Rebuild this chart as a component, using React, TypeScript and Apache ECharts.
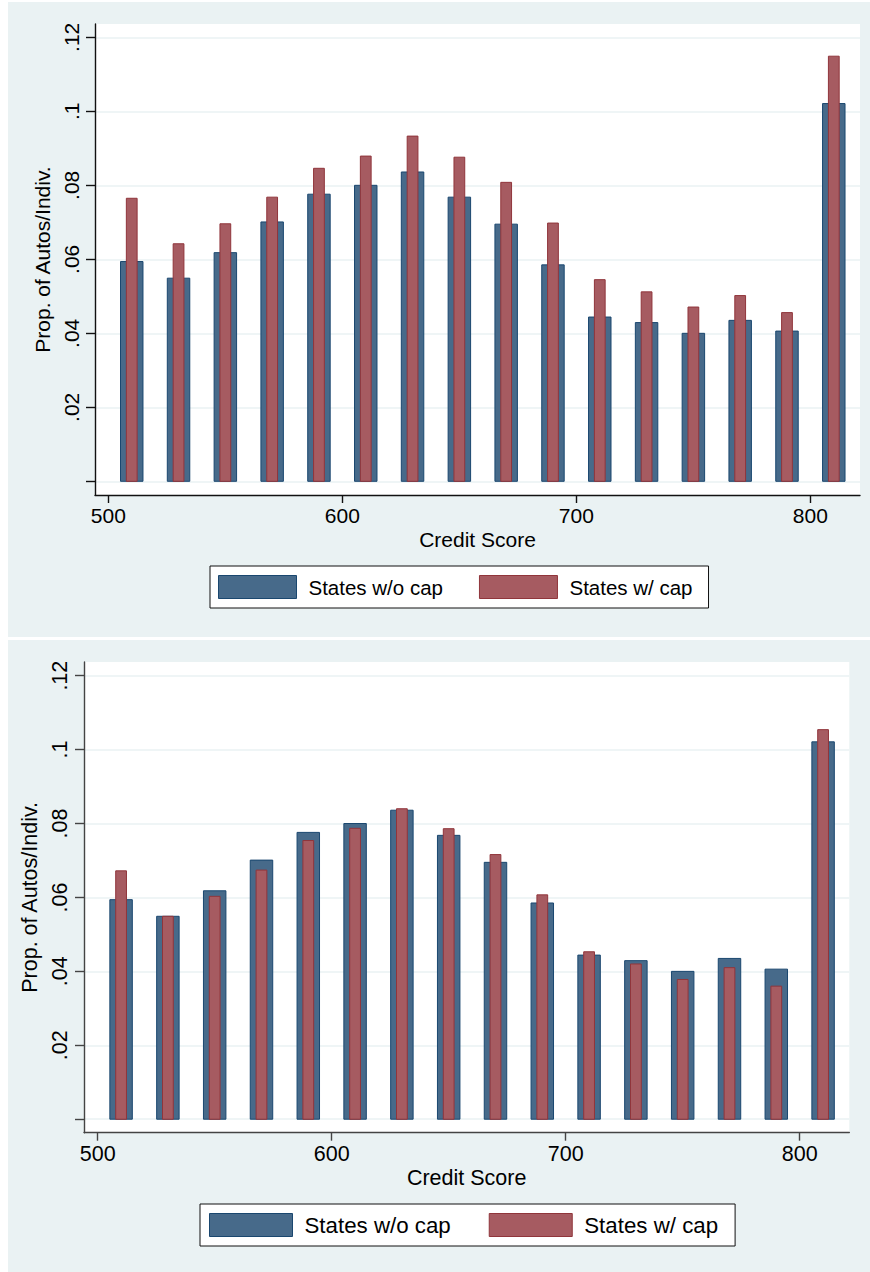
import React, { useEffect, useRef } from 'react';
import * as echarts from 'echarts';

// Credit-score bins (bin centres)
const creditScores = [510, 530, 550, 570, 590, 610, 630, 650, 670, 690, 710, 730, 750, 770, 790, 810];

// Share of autos per individual, states without a rate cap
const noCapShare = [0.0594, 0.0549, 0.0618, 0.0701, 0.0776, 0.0800, 0.0836, 0.0768, 0.0695, 0.0585, 0.0444, 0.0429, 0.0400, 0.0435, 0.0406, 0.1021];

// States with a cap: upper panel
const capShareUpper = [0.0765, 0.0642, 0.0696, 0.0768, 0.0846, 0.0879, 0.0933, 0.0876, 0.0808, 0.0698, 0.0545, 0.0512, 0.0471, 0.0502, 0.0456, 0.1149];

// States with a cap: lower panel
const capShareLower = [0.0672, 0.0549, 0.0603, 0.0674, 0.0754, 0.0787, 0.0840, 0.0786, 0.0716, 0.0607, 0.0453, 0.0420, 0.0378, 0.0410, 0.0360, 0.1054];

const yTickValues = [0, 0.02, 0.04, 0.06, 0.08, 0.1, 0.12];
const yLabelValues = [0.02, 0.04, 0.06, 0.08, 0.1, 0.12];
const xTickValues = [500, 600, 700, 800];

const seriesNames = ['States w/o cap', 'States w/ cap'];
const xTitle = 'Credit Score';
const yTitle = 'Prop. of Autos/Indiv.';

const FONT = '"Liberation Sans", Arial, Helvetica, sans-serif';
const PANEL_BG = '#EAF2F3';
const BLUE = { fill: '#476A8A', stroke: '#1A476F' };
const RED = { fill: '#A65B61', stroke: '#90353B' };

// Stata-style number labels: ".02", ".1"
function stataNum(v: number): string {
  const s = String(+v.toFixed(3));
  return s.startsWith('0.') ? s.slice(1) : s;
}

type Panel = {
  cap: number[];
  bg: { x: number; y: number; w: number; h: number };
  grid: { left: number; top: number; width: number; height: number };
  yMin: number;
  yMax: number;
  xMin: number;
  xMax: number;
  axisColor: string;
  fontSize: number;
  legend: { left: number; top: number; itemWidth: number; fontSize: number; itemGap: number; padding: number[] };
};

const panels: Panel[] = [
  {
    cap: capShareUpper,
    bg: { x: 8, y: 2, w: 862, h: 635 },
    grid: { left: 95, top: 24, width: 765, height: 471 },
    yMin: -0.0037,
    yMax: 0.1236,
    xMin: 494.3,
    xMax: 821.2,
    axisColor: '#111',
    fontSize: 21,
    legend: { left: 210, top: 566, itemWidth: 78, fontSize: 20.5, itemGap: 36, padding: [9, 16, 9, 8] },
  },
  {
    cap: capShareLower,
    bg: { x: 8, y: 640, w: 862, h: 632 },
    grid: { left: 84, top: 662, width: 765.3, height: 470.7 },
    yMin: -0.00365,
    yMax: 0.1237,
    xMin: 494.15,
    xMax: 821.2,
    axisColor: '#444',
    fontSize: 21.5,
    legend: { left: 200, top: 1204, itemWidth: 83, fontSize: 22.3, itemGap: 38, padding: [9, 17, 9, 9] },
  },
];

function barSeries(name: string, idx: number, values: number[], halfWidth: number, color: { fill: string; stroke: string }, z: number) {
  return {
    type: 'custom',
    name,
    xAxisIndex: idx,
    yAxisIndex: idx,
    z,
    clip: true,
    data: creditScores.map((s, i) => [s, values[i]]),
    encode: { x: 0, y: 1 },
    itemStyle: { color: color.fill, borderColor: color.stroke, borderWidth: 1 },
    renderItem: (_params: any, api: any) => {
      const x = api.value(0);
      const y = api.value(1);
      const p0 = api.coord([x - halfWidth, y]);
      const p1 = api.coord([x + halfWidth, 0]);
      return {
        type: 'rect',
        shape: { x: p0[0], y: p0[1], width: p1[0] - p0[0], height: p1[1] - p0[1] },
        style: { fill: color.fill, stroke: color.stroke, lineWidth: 1 },
      };
    },
  };
}

function buildOption() {
  const grid: any[] = [];
  const xAxis: any[] = [];
  const yAxis: any[] = [];
  const series: any[] = [];
  const legend: any[] = [];
  const graphic: any[] = [];

  panels.forEach((p, i) => {
    graphic.push({
      type: 'rect',
      z: -10,
      silent: true,
      shape: { x: p.bg.x, y: p.bg.y, width: p.bg.w, height: p.bg.h },
      style: { fill: PANEL_BG },
    });

    grid.push({
      left: p.grid.left,
      top: p.grid.top,
      width: p.grid.width,
      height: p.grid.height,
      show: true,
      backgroundColor: '#ffffff',
      borderWidth: 0,
      containLabel: false,
    });

    const textStyle = { fontFamily: FONT, fontSize: p.fontSize, color: '#000' };

    xAxis.push({
      gridIndex: i,
      type: 'value',
      min: p.xMin,
      max: p.xMax,
      name: xTitle,
      nameLocation: 'middle',
      nameGap: 34,
      nameTextStyle: textStyle,
      axisLine: { show: true, onZero: false, lineStyle: { color: p.axisColor, width: 1.4 } },
      axisTick: { show: true, length: 8, customValues: xTickValues, lineStyle: { color: p.axisColor, width: 1.4 } },
      axisLabel: { customValues: xTickValues, margin: 10, ...textStyle },
      splitLine: { show: false },
    });

    yAxis.push({
      gridIndex: i,
      type: 'value',
      min: p.yMin,
      max: p.yMax,
      name: yTitle,
      nameLocation: 'middle',
      nameGap: i === 0 ? 40 : 38,
      nameTextStyle: textStyle,
      axisLine: { show: true, onZero: false, lineStyle: { color: p.axisColor, width: 1.4 } },
      axisTick: { show: true, length: 9, customValues: yTickValues, lineStyle: { color: p.axisColor, width: 1.4 } },
      axisLabel: { customValues: yLabelValues, rotate: 90, margin: 13, formatter: stataNum, ...textStyle },
      splitLine: { show: true, lineStyle: { color: PANEL_BG, width: 1.5 } },
    });

    series.push(barSeries(seriesNames[0], i, noCapShare, 4.8, BLUE, 2));
    series.push(barSeries(seriesNames[1], i, p.cap, 2.3, RED, 3));

    legend.push({
      left: p.legend.left,
      top: p.legend.top,
      orient: 'horizontal',
      icon: 'rect',
      itemWidth: p.legend.itemWidth,
      itemHeight: 23,
      itemGap: p.legend.itemGap,
      padding: p.legend.padding,
      backgroundColor: '#ffffff',
      borderColor: '#111',
      borderWidth: 1,
      borderRadius: 0,
      selectedMode: false,
      textStyle: { fontFamily: FONT, fontSize: p.legend.fontSize, color: '#000', padding: [0, 0, 0, 7] },
      data: [
        { name: seriesNames[0], itemStyle: { color: BLUE.fill, borderColor: BLUE.stroke, borderWidth: 1 } },
        { name: seriesNames[1], itemStyle: { color: RED.fill, borderColor: RED.stroke, borderWidth: 1 } },
      ],
    });
  });

  return {
    animation: false,
    backgroundColor: '#ffffff',
    graphic,
    grid,
    xAxis,
    yAxis,
    legend,
    series,
  };
}

export default function App() {
  const ref = useRef<HTMLDivElement>(null);

  useEffect(() => {
    if (!ref.current) return;
    const chart = echarts.init(ref.current, undefined, { renderer: 'svg' });
    chart.setOption(buildOption() as any);
    return () => chart.dispose();
  }, []);

  return (
    <div
      ref={ref}
      style={{ position: 'absolute', left: 0, top: 0, width: 870, height: 1272 }}
    />
  );
}
